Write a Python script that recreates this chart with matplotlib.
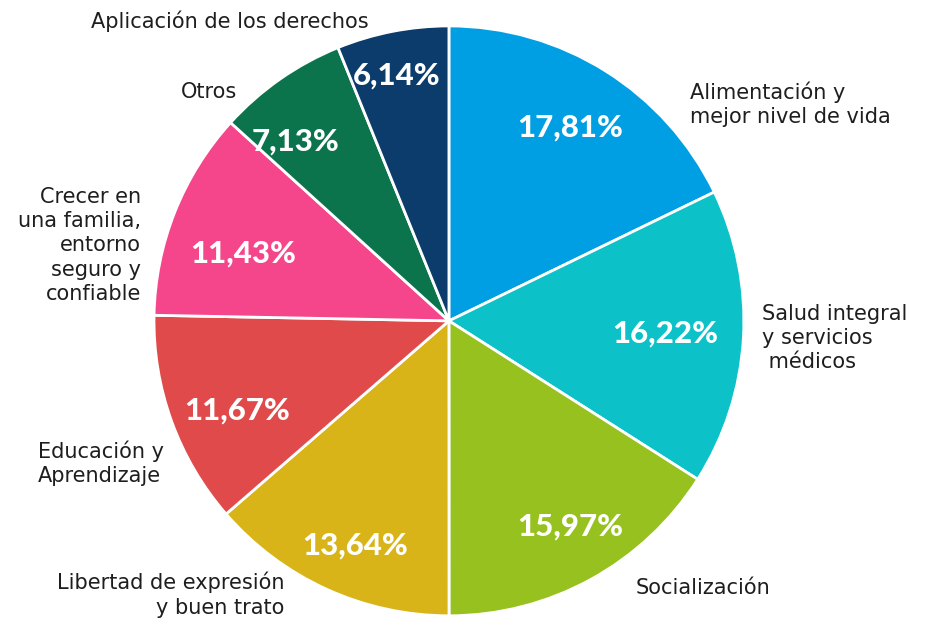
import numpy as np
import matplotlib.pyplot as plt

# data
categories = ["Alimentación y\nmejor nivel de vida",
              "Salud integral\ny servicios\n médicos",
              "Socialización",
              "Libertad de expresión\ny buen trato",
              "Educación y\nAprendizaje",
              "Crecer en\nuna familia,\nentorno\nseguro y\nconfiable",
              "Otros",
              "Aplicación de los derechos"]
values = [17.81, 16.22, 15.97, 13.64, 11.67, 11.43, 7.13, 6.14]
pct_labels = ["17,81%", "16,22%", "15,97%", "13,64%", "11,67%", "11,43%", "7,13%", "6,14%"]
colors = ["#009fe3", "#0cc1c8", "#97c11f", "#d9b419", "#e04a4a", "#f5458b", "#0c744c", "#0b3c6b"]

# where the text goes (radius in pie units, small angle nudges in degrees)
pct_dist = [0.775, 0.734, 0.81, 0.826, 0.78, 0.734, 0.80, 0.85]
pct_nudge = [0, 0, 1.8, 1.8, 3.0, 3.6, 5.5, 1.0]
label_pos = [(0.817, 0.735, "left"), (1.061, -0.058, "left"), (0.634, -0.905, "left"),
             (-0.559, -0.929, "right"), (-1.393, -0.483, "left"), (-1.044, 0.256, "right"),
             (-0.814, 0.776, "center"), (-0.742, 1.017, "center")]

plt.rcParams['font.family'] = ['DejaVu Sans']
fig = plt.figure(figsize=(9.26, 6.18), dpi=100)
ax = fig.add_axes([0.1663, 0.0033, 0.637, 0.955])

wedges, _ = ax.pie(values, colors=colors, startangle=90, counterclock=False,
                   wedgeprops=dict(edgecolor="white", linewidth=2))

for w, lab, d, nd in zip(wedges, pct_labels, pct_dist, pct_nudge):
    ang = np.deg2rad((w.theta1 + w.theta2) / 2 + nd)
    ax.text(d * np.cos(ang), d * np.sin(ang), lab, ha="center", va="center",
            color="white", fontsize=22.5, fontweight="black", family=["Lato", "DejaVu Sans"])

for cat, (x, y, ha) in zip(categories, label_pos):
    ax.text(x, y, cat, ha=ha, va="center", fontsize=15, color="#1e1e1e",
            linespacing=1.27, multialignment=ha)

ax.set_xlim(-1, 1)
ax.set_ylim(-1, 1)
ax.set_aspect("equal")
ax.axis("off")

plt.savefig("out.png", dpi=100)
